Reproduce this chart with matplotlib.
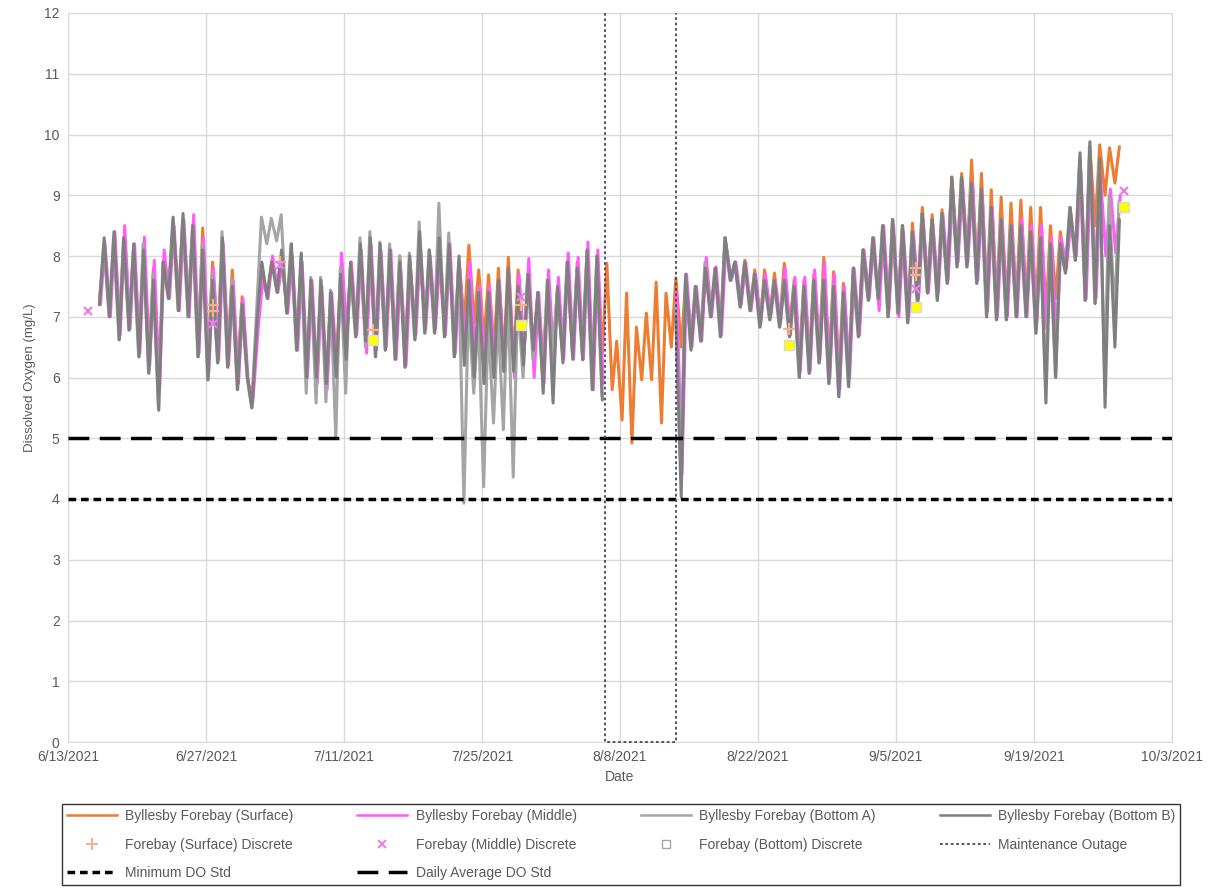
import numpy as np
import matplotlib
matplotlib.use("Agg")
import matplotlib.pyplot as plt
import matplotlib.dates as mdates
from matplotlib.lines import Line2D

plt.rcParams["font.family"] = ["Liberation Sans", "DejaVu Sans"]

nan = np.nan

# daily readings from 6/16/2021 (index 0) to 9/27/2021 (index 103): daily low / daily high
first_day = "2021-06-16"

surf_hi = [
    8.1, 8.2, 8.3, 8.1, 8.2, 7.8, 7.9,
    8.5, 8.6, 8.5, 8.46, 7.9, 8.3, 7.77,
    7.33, 5.6, 7.7, 7.9, 8.0, 7.9, 7.8,
    7.5, 7.5, 7.3, 7.8, 7.7, 7.9, 7.9,
    7.9, 7.8, 8.0, 7.9, 8.0, 7.9, 7.9,
    8.0, 7.9, 8.18, 7.77, 7.69, 7.8, 7.98,
    7.77, 7.7, 7.4, 7.6, 7.5, 7.9, 7.9,
    8.1, 8.0, 7.88, 6.6, 7.39, 6.83, 7.06,
    7.57, 7.39, 7.64, 7.6, 7.5, 7.8, 7.7,
    8.3, 7.9, 7.93, 7.77, 7.77, 7.72, 7.88,
    7.6, 7.6, 7.7, 7.98, 7.74, 7.55, 7.8,
    8.1, 8.2, 8.5, 8.6, 8.5, 8.54, 8.8,
    8.68, 8.76, 9.3, 9.36, 9.58, 9.36, 9.09,
    8.97, 8.87, 8.92, 8.8, 8.8, 8.5, 8.4,
    8.8, 9.6, 9.8, 9.83, 9.78, 9.8]
surf_lo = [
    7.3, 7.1, 6.8, 6.9, 6.5, 6.3, 5.9,
    7.4, 7.3, 7.2, 6.5, 6.3, 6.5, 6.4,
    6.1, 6.0, 6.8, 7.4, 7.5, 7.1, 6.6,
    6.1, 6.0, 6.0, 6.1, 6.8, 6.8, 6.6,
    6.5, 6.6, 6.5, 6.4, 6.8, 6.9, 6.9,
    6.8, 6.6, 6.9, 6.9, 6.6, 6.4, 6.3,
    6.2, 6.5, 6.5, 6.2, 6.4, 6.4, 6.4,
    6.4, 6.2, 6.4, 5.8, 5.3, 4.92, 5.96,
    5.96, 5.25, 6.5, 6.5, 6.6, 6.7, 7.0,
    6.8, 7.6, 7.2, 7.1, 6.9, 7.0, 6.9,
    6.8, 6.3, 6.3, 6.4, 6.2, 6.0, 6.1,
    6.8, 7.3, 7.3, 7.1, 7.1, 7.0, 7.3,
    7.5, 7.4, 7.6, 7.9, 7.9, 7.7, 7.3,
    7.2, 7.2, 7.2, 7.2, 7.1, 7.0, 7.3,
    7.8, 8.0, 7.5, 8.5, 9.0, 9.2]

mid_hi = [
    8.2, 8.4, 8.5, 8.2, 8.31, 7.93, 8.1,
    8.5, 8.6, 8.68, 8.3, 7.8, 8.2, 7.6,
    7.3, 5.6, 7.6, 8.0, 7.9, 8.0, 7.9,
    7.6, 7.5, 7.4, 8.05, 7.9, 8.1, 8.2,
    8.1, 8.1, 7.8, 7.8, 8.2, 8.0, 8.1,
    8.2, 7.8, 7.9, 7.5, 7.5, 7.6, 7.7,
    7.7, 7.96, 7.4, 7.77, 7.65, 8.05, 7.98,
    8.23, 8.1, nan, nan, nan, nan, nan,
    nan, nan, 7.4, 7.7, 7.5, 7.98, 7.82,
    8.2, 7.9, 7.9, 7.7, 7.7, 7.6, 7.8,
    7.65, 7.65, 7.77, 7.9, 7.7, 7.5, 7.8,
    8.1, 8.3, 8.5, 8.5, 8.4, 8.4, 8.6,
    8.5, 8.7, 9.1, 9.2, 9.2, 9.0, 8.8,
    8.6, 8.5, 8.6, 8.5, 8.5, 8.3, 8.3,
    8.6, 9.4, 9.5, 9.3, 9.1, 9.0]
mid_lo = [
    7.2, 7.0, 6.7, 6.8, 6.4, 6.2, 5.8,
    7.3, 7.1, 7.0, 6.4, 6.1, 6.3, 6.2,
    5.9, 5.9, 6.8, 7.3, 7.4, 7.06, 6.45,
    6.0, 5.9, 5.8, 6.1, 6.7, 6.7, 6.4,
    6.45, 6.5, 6.3, 6.2, 6.7, 6.8, 6.8,
    6.7, 6.4, 6.5, 6.4, 6.2, 6.2, 6.1,
    6.0, 6.45, 6.0, 5.9, 6.24, 6.3, 6.3,
    6.3, 5.8, 5.9, nan, nan, nan, nan,
    nan, nan, nan, 4.43, 6.5, 6.6, 7.0,
    6.7, 7.6, 7.2, 7.1, 6.9, 7.0, 6.9,
    6.7, 6.1, 6.1, 6.3, 6.0, 5.8, 6.0,
    6.7, 7.3, 7.1, 7.1, 7.0, 7.0, 7.3,
    7.4, 7.4, 7.6, 7.9, 7.9, 7.6, 7.1,
    7.0, 7.0, 7.0, 7.0, 6.9, 6.8, 6.5,
    7.8, 8.0, 7.3, 7.3, 8.0, 8.05]

bota_hi = [
    8.2, 8.3, 8.3, 8.1, 8.2, 7.7, 7.9,
    8.6, 8.6, 8.5, 8.2, 7.7, 8.4, 7.6,
    7.2, 5.5, 8.64, 8.62, 8.68, 8.2, 8.0,
    7.65, 7.65, 7.44, 7.8, 7.8, 8.3, 8.4,
    8.23, 8.2, 8.0, 8.05, 8.56, 8.1, 8.87,
    8.38, 7.9, 7.2, 7.0, 6.9, 7.0, 7.4,
    7.3, 7.7, 7.3, 7.6, 7.4, 7.9, 7.8,
    8.0, 7.9, nan, nan, nan, nan, nan,
    nan, nan, 7.2, 7.6, 7.5, 7.9, 7.8,
    8.3, 7.9, 7.9, 7.7, 7.6, 7.6, 7.6,
    7.5, 7.5, 7.6, 7.6, 7.5, 7.4, 7.7,
    8.1, 8.3, 8.5, 8.6, 8.5, 8.4, 8.7,
    8.6, 8.7, 9.2, 9.3, 9.2, 9.1, 8.8,
    8.6, 8.5, 8.5, 8.4, 8.3, 8.2, 8.2,
    8.8, 9.6, 9.8, 9.5, 9.0, 8.9]
bota_lo = [
    7.2, 7.0, 6.62, 6.78, 6.34, 6.07, 5.5,
    7.3, 7.1, 7.0, 6.34, 5.96, 6.24, 6.17,
    5.8, 6.0, 7.2, 8.2, 8.25, 7.06, 6.45,
    5.74, 5.58, 5.6, 5.02, 5.74, 6.67, 6.5,
    6.34, 6.45, 6.3, 6.17, 6.62, 6.73, 6.73,
    6.67, 6.34, 3.93, 5.74, 4.2, 5.25, 5.14,
    4.36, 6.0, 6.3, 6.0, 6.4, 6.4, 6.4,
    6.4, 5.8, 5.7, nan, nan, nan, nan,
    nan, nan, nan, 4.5, 6.5, 6.6, 7.0,
    6.67, 7.6, 7.16, 7.1, 6.83, 6.95, 6.83,
    6.67, 6.0, 6.07, 6.24, 5.9, 5.7, 5.85,
    6.67, 7.27, 7.3, 7.0, 7.06, 6.9, 7.2,
    7.39, 7.27, 7.55, 7.82, 7.82, 7.55, 7.0,
    6.95, 6.95, 7.0, 7.0, 6.73, 5.9, 6.0,
    7.72, 7.93, 7.27, 7.22, 6.0, 7.0]

botb_hi = [
    8.3, 8.4, 8.3, 8.2, 8.1, 7.6, 7.9,
    8.64, 8.7, 8.5, 8.1, 7.6, 8.3, 7.5,
    7.2, 5.5, 7.9, 7.9, 8.1, 8.2, 8.05,
    7.6, 7.6, 7.4, 7.7, 7.9, 8.2, 8.3,
    8.2, 8.1, 7.9, 8.0, 8.4, 8.1, 8.3,
    8.2, 8.0, 7.6, 7.4, 7.4, 7.6, 7.8,
    7.5, 7.7, 7.4, 7.6, 7.5, 7.9, 7.8,
    8.1, 8.0, nan, nan, nan, nan, nan,
    nan, nan, 7.0, 7.7, 7.5, 7.8, 7.8,
    8.3, 7.9, 7.9, 7.7, 7.6, 7.6, 7.6,
    7.5, 7.5, 7.6, 7.6, 7.5, 7.4, 7.8,
    8.1, 8.3, 8.5, 8.6, 8.5, 8.4, 8.7,
    8.6, 8.7, 9.3, 9.3, 9.2, 9.1, 8.8,
    8.6, 8.5, 8.5, 8.4, 8.3, 8.2, 8.2,
    8.8, 9.7, 9.88, 9.6, 8.5, 8.6]
botb_lo = [
    7.2, 7.0, 6.62, 6.78, 6.34, 6.07, 5.46,
    7.3, 7.1, 7.0, 6.34, 5.96, 6.24, 6.17,
    5.8, 6.0, 7.0, 7.3, 7.4, 7.06, 6.45,
    6.0, 6.0, 5.9, 6.0, 6.3, 6.67, 6.6,
    6.34, 6.45, 6.3, 6.17, 6.62, 6.73, 6.73,
    6.67, 6.34, 6.2, 6.0, 5.9, 6.0, 6.1,
    6.1, 6.2, 6.45, 5.74, 5.58, 6.24, 6.3,
    6.29, 5.8, 5.63, nan, nan, nan, nan,
    nan, nan, nan, 4.03, 6.45, 6.6, 7.0,
    6.67, 7.6, 7.16, 7.1, 6.83, 6.95, 6.83,
    6.67, 6.0, 6.07, 6.24, 5.9, 5.68, 5.85,
    6.67, 7.27, 7.3, 7.0, 7.06, 6.9, 7.2,
    7.39, 7.27, 7.55, 7.82, 7.82, 7.55, 7.0,
    6.95, 6.95, 7.0, 7.0, 6.73, 5.58, 6.0,
    7.72, 7.93, 7.27, 7.22, 5.51, 6.5]

# discrete samples
surf_disc_dates = ["2021-06-27T18:00", "2021-06-27T18:00", "2021-07-04T12:00", "2021-07-13T22:00",
                   "2021-07-29T00:00", "2021-08-25T04:00", "2021-09-07T00:00", "2021-09-07T00:00"]
surf_disc_vals = [7.2, 7.1, 7.9, 6.78, 7.2, 6.8, 7.8, 7.68]
mid_disc_dates = ["2021-06-15T00:00", "2021-06-27T18:00", "2021-07-04T12:00", "2021-07-29T00:00",
                  "2021-09-07T00:00", "2021-09-28T02:00"]
mid_disc_vals = [7.1, 6.88, 7.85, 7.33, 7.45, 9.07]
bot_disc_dates = ["2021-07-13T22:00", "2021-07-29T00:00", "2021-08-25T04:00", "2021-09-07T00:00",
                  "2021-09-28T02:00"]
bot_disc_vals = [6.62, 6.86, 6.53, 7.16, 8.8]

outage_start = "2021-08-06T12:00"
outage_end = "2021-08-13T17:00"
min_do_std = 4
daily_avg_do_std = 5


def series_times(lo_hour, hi_hour, n):
    base = np.datetime64(first_day + "T00:00")
    days = np.arange(n) * np.timedelta64(24, "h")
    t_lo = base + days + np.timedelta64(lo_hour, "h")
    t_hi = base + days + np.timedelta64(hi_hour, "h")
    return np.column_stack([t_lo, t_hi]).ravel()


def series_vals(lo, hi):
    return np.column_stack([lo, hi]).ravel()


fig = plt.figure(figsize=(12.11, 8.89), dpi=100)
ax = fig.add_axes([68 / 1211, 147 / 889, 1104 / 1211, 729 / 889])

grid_c = "#D9D9D9"
txt_c = "#595959"
lw = 2.2

n = len(surf_hi)
line_kw = dict(lw=lw, zorder=3, solid_joinstyle="round", solid_capstyle="round")
ax.plot(series_times(5, 16, n), series_vals(surf_lo, surf_hi), color="#ED7D31", **line_kw)
ax.plot(series_times(7, 18, n), series_vals(mid_lo, mid_hi), color="#FF5BFF", **line_kw)
ax.plot(series_times(4, 15, n), series_vals(bota_lo, bota_hi), color="#A5A5A5", **line_kw)
ax.plot(series_times(5, 16, n), series_vals(botb_lo, botb_hi), color="#7F7F7F", **line_kw)

to_dt = lambda a: np.array(a, dtype="datetime64[m]")
ax.plot(to_dt(surf_disc_dates), surf_disc_vals, ls="none", marker="+", ms=9, mew=1.6,
        color="#F4B183", zorder=5)
ax.plot(to_dt(mid_disc_dates), mid_disc_vals, ls="none", marker="x", ms=6, mew=1.6,
        color="#E67FE6", zorder=5)
ax.plot(to_dt(bot_disc_dates), bot_disc_vals, ls="none", marker="s", ms=7, mfc="#FFFF00",
        mec="#D9D9D9", mew=1, zorder=5)

x0 = np.datetime64("2021-06-13")
x1 = np.datetime64("2021-10-03")
ax.plot([x0, x1], [min_do_std, min_do_std], color="black", lw=2.5, ls=(0, (2.2, 1.4)), zorder=4)
ax.plot([x0, x1], [daily_avg_do_std, daily_avg_do_std], color="black", lw=2.5, ls=(0, (6, 3)), zorder=4)

os_, oe = np.datetime64(outage_start), np.datetime64(outage_end)
ax.plot([os_, os_, oe, oe], [12, 0, 0, 12], color="#4A3F6B", lw=1.3,
        ls=(0, (1.5, 1.5)), zorder=4, clip_on=False)

ax.set_xlim(x0, x1)
ax.set_ylim(0, 12)
ax.set_yticks(range(0, 13))
ticks = np.arange(x0, x1 + np.timedelta64(1, "D"), np.timedelta64(14, "D"))
ax.set_xticks(ticks)
ax.xaxis.set_major_formatter(
    matplotlib.ticker.FuncFormatter(lambda v, p: "{d.month}/{d.day}/{d.year}".format(d=mdates.num2date(v))))
ax.grid(True, color=grid_c, lw=1)
ax.set_axisbelow(True)
for s in ax.spines.values():
    s.set_color(grid_c)
ax.tick_params(length=0, labelsize=10, colors=txt_c, pad=6)
ax.set_xlabel("Date", fontsize=10, color=txt_c, labelpad=4)
ax.set_ylabel("Dissolved Oxygen (mg/L)", fontsize=9.5, color=txt_c, labelpad=6)

h = {
    "surf": Line2D([], [], color="#ED7D31", lw=1.8),
    "mid": Line2D([], [], color="#FF5BFF", lw=1.8),
    "bota": Line2D([], [], color="#A5A5A5", lw=1.8),
    "botb": Line2D([], [], color="#7F7F7F", lw=1.8),
    "sd": Line2D([], [], ls="none", marker="+", ms=8, mew=1.4, color="#F4B183"),
    "md": Line2D([], [], ls="none", marker="x", ms=6, mew=1.4, color="#E67FE6"),
    "bd": Line2D([], [], ls="none", marker="s", ms=6, mfc="none", mec="#A5A5A5"),
    "mo": Line2D([], [], color="#4A3F6B", lw=1.3, ls=(0, (1.5, 1.5))),
    "min": Line2D([], [], color="black", lw=2.5, ls=(0, (2.2, 1.4))),
    "avg": Line2D([], [], color="black", lw=2.5, ls=(0, (6, 3))),
}
labels = {
    "surf": "Byllesby Forebay (Surface)", "mid": "Byllesby Forebay (Middle)",
    "bota": "Byllesby Forebay (Bottom A)", "botb": "Byllesby Forebay (Bottom B)",
    "sd": "Forebay (Surface) Discrete", "md": "Forebay (Middle) Discrete",
    "bd": "Forebay (Bottom) Discrete", "mo": "Maintenance Outage",
    "min": "Minimum DO Std", "avg": "Daily Average DO Std",
}
order = ["surf", "sd", "min", "mid", "md", "avg", "bota", "bd", "botb", "mo"]
leg = fig.legend([h[k] for k in order], [labels[k] for k in order], ncol=4,
                 loc="lower left", bbox_to_anchor=(62 / 1211, 4 / 889, 1118 / 1211, 80 / 889),
                 mode="expand", fontsize=10, frameon=True, fancybox=False, edgecolor="black",
                 handlelength=3.6, handletextpad=0.6, borderaxespad=0, labelspacing=1.05,
                 borderpad=0.35)
leg.get_frame().set_linewidth(1.0)
for t in leg.get_texts():
    t.set_color(txt_c)

fig.savefig("out.png", dpi=100)
